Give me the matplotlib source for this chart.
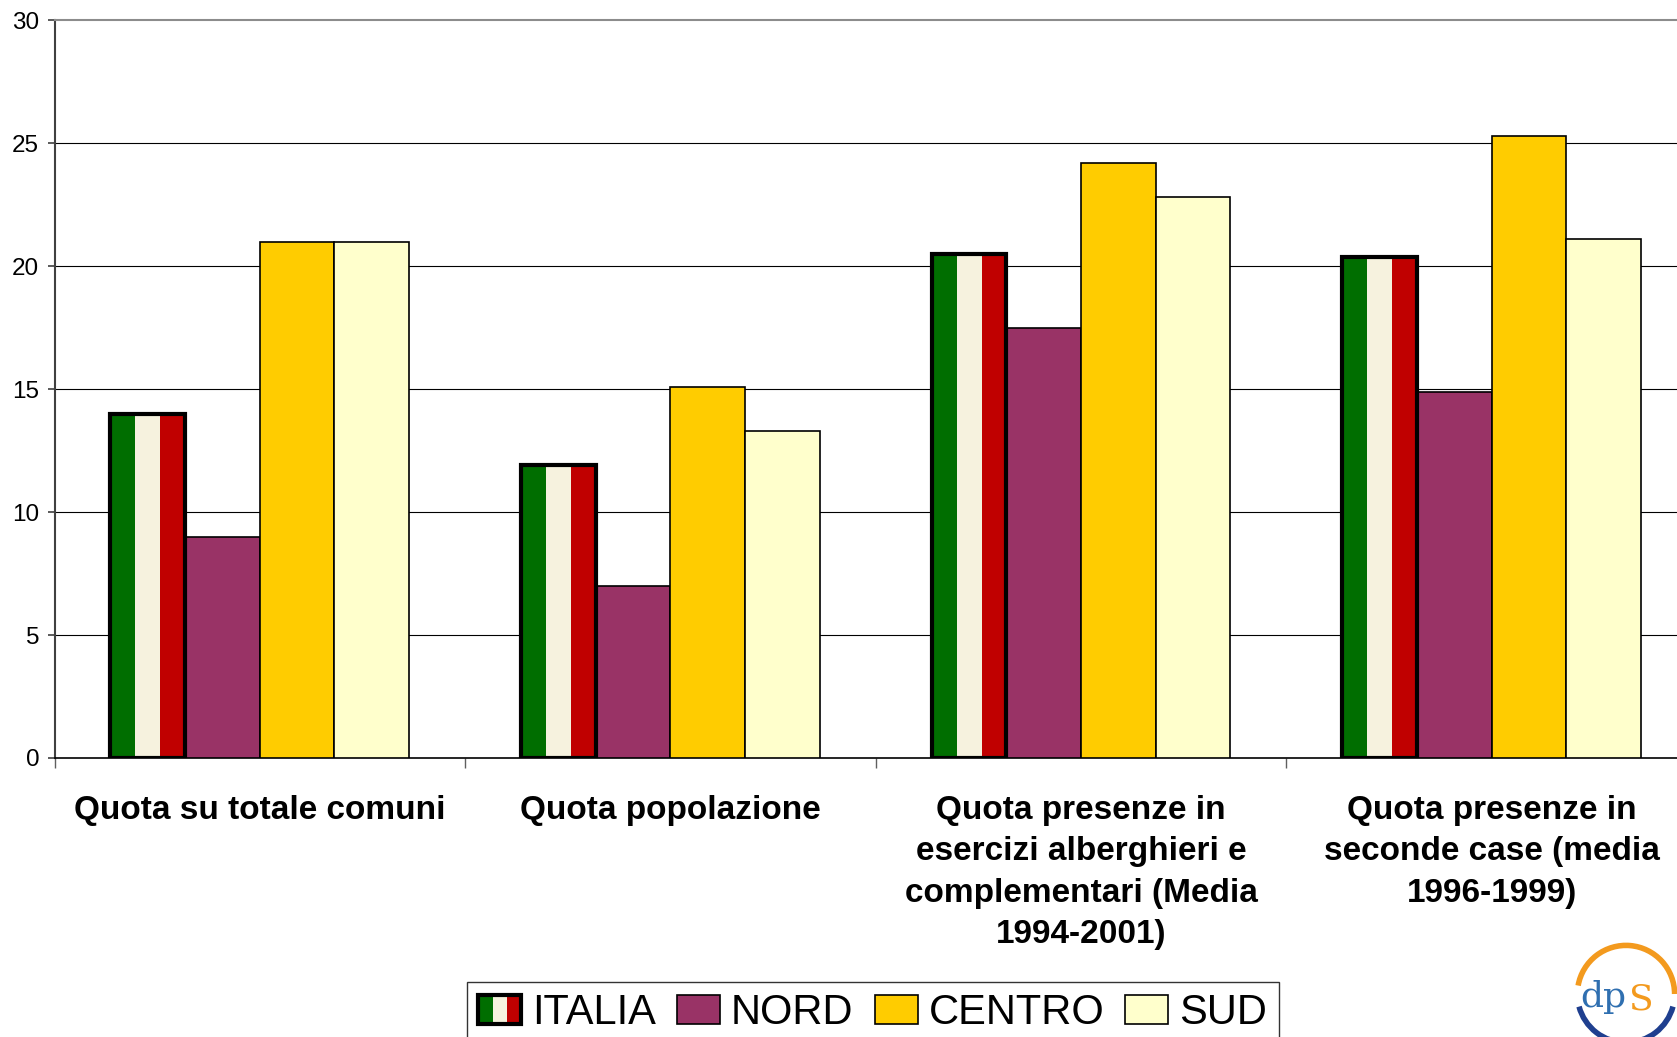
import matplotlib
matplotlib.use("Agg")
import matplotlib.pyplot as plt
from matplotlib.patches import Rectangle, Arc
from matplotlib.legend_handler import HandlerBase
from matplotlib import font_manager as fm

# ---- data ----
categories = [
    "Quota su totale comuni",
    "Quota popolazione",
    "Quota presenze in\nesercizi alberghieri e\ncomplementari (Media\n1994-2001)",
    "Quota presenze in\nseconde case (media\n1996-1999)",
]
series_names = ["ITALIA", "NORD", "CENTRO", "SUD"]
italia = [14.0, 11.9, 20.5, 20.4]
nord = [9.0, 7.0, 17.5, 14.9]
centro = [21.0, 15.1, 24.2, 25.3]
sud = [21.0, 13.3, 22.8, 21.1]
yticks = [0, 5, 10, 15, 20, 25, 30]

# ---- styles ----
GREEN, CREAM, RED = "#006E00", "#F6F2DE", "#C00000"
colors = {"NORD": "#993366", "CENTRO": "#FFCC00", "SUD": "#FFFFCC"}

def font_available(name):
    try:
        fm.findfont(fm.FontProperties(family=name), fallback_to_default=False)
        return True
    except Exception:
        return False

narrow = font_available("Liberation Sans Narrow")
legend_family = "Liberation Sans Narrow" if narrow else "Liberation Sans"
legend_size = 37.5 if narrow else 30
lpx = legend_size * 100 / 72.0

plt.rcParams["font.family"] = ["Liberation Sans", "DejaVu Sans"]

W, H = 1677, 1037
fig = plt.figure(figsize=(W / 100, H / 100), dpi=100)
left_px, right_px, top_px, zero_px = 54.5, 1697, 20.5, 758
ax = fig.add_axes([left_px / W, 1 - zero_px / H, (right_px - left_px) / W, (zero_px - top_px) / H])

n = len(categories)
bw = 1 / 5.5
centers = [i + 0.5 for i in range(n)]

# gridlines
for t in yticks[1:-1]:
    ax.axhline(t, color="black", lw=0.8, zorder=1)

# ITALIA tricolor bars
for c, v in zip(centers, italia):
    x0 = c - 2 * bw
    for k, col in enumerate([GREEN, CREAM, RED]):
        ax.bar(x0 + (k + 0.5) * bw / 3, v, width=bw / 3, color=col, edgecolor="none", zorder=3)
    ax.bar(x0 + bw / 2, v, width=bw, fill=False, edgecolor="black", lw=3.0, zorder=4)

for i, (name, vals) in enumerate(zip(series_names[1:], [nord, centro, sud])):
    xs = [c + (i + 1 - 1.5) * bw for c in centers]
    ax.bar(xs, vals, width=bw, color=colors[name], edgecolor="black", lw=1.2, zorder=3)

ax.set_xlim(0, n)
ax.set_ylim(0, 30)
ax.set_yticks(yticks)
ax.set_yticklabels([str(t) for t in yticks], fontsize=17.5)
ax.set_xticks(range(n + 1))
ax.set_xticklabels([])
ax.tick_params(axis="y", direction="out", length=5, width=1.2, color="#404040", pad=6)
ax.tick_params(axis="x", direction="out", length=7, width=1.0, color="#606060")

ax.spines["right"].set_visible(False)
ax.spines["top"].set_color("#8c8c8c")
ax.spines["top"].set_linewidth(1.5)
ax.spines["left"].set_color("#404040")
ax.spines["left"].set_linewidth(1.5)
ax.spines["bottom"].set_color("black")
ax.spines["bottom"].set_linewidth(1.2)

for c, lab in zip(centers, categories):
    ax.text(c, -0.050, lab, transform=ax.get_xaxis_transform(), ha="center", va="top",
            multialignment="center", fontsize=24, fontweight="bold", linespacing=1.43)

# legend
class TricolorHandler(HandlerBase):
    def create_artists(self, legend, orig_handle, xdescent, ydescent, width, height, fontsize, trans):
        arts = []
        for k, col in enumerate([GREEN, CREAM, RED]):
            arts.append(Rectangle((-xdescent + k * width / 3, -ydescent), width / 3, height,
                                  facecolor=col, edgecolor="none", transform=trans))
        arts.append(Rectangle((-xdescent, -ydescent), width, height, fill=False,
                              edgecolor="black", lw=3.0, transform=trans))
        return arts

handles = [Rectangle((0, 0), 1, 1)]
handles += [Rectangle((0, 0), 1, 1, facecolor=colors[nm], edgecolor="black", lw=1.2) for nm in series_names[1:]]
leg = fig.legend(handles, series_names, loc="upper left",
                 bbox_to_anchor=(467 / W, 1 - 982 / H), borderaxespad=0, ncol=4,
                 prop={"family": legend_family, "size": legend_size},
                 handlelength=43 / lpx, handleheight=29 / lpx, handletextpad=11 / lpx,
                 columnspacing=21 / lpx,
                 borderpad=0.27, frameon=True, fancybox=False,
                 handler_map={handles[0]: TricolorHandler()})
leg.get_frame().set_edgecolor("black")
leg.get_frame().set_linewidth(1.0)

# logo (dps)
lax = fig.add_axes([1572 / W, 1 - 1048 / H, 108 / W, 108 / H])
lax.set_xlim(-1, 1)
lax.set_ylim(-1, 1)
lax.set_aspect("equal")
lax.axis("off")
lax.add_patch(Arc((0, 0), 1.8, 1.8, theta1=0, theta2=170, color="#F39A1E", lw=4))
lax.add_patch(Arc((0, 0), 1.8, 1.8, theta1=195, theta2=345, color="#1F3F8F", lw=4))
lax.text(0.0, -0.05, "dp", ha="right", va="center", color="#2F6FB0", fontsize=26,
         family="DejaVu Serif")
lax.text(0.05, -0.1, "S", ha="left", va="center", color="#F39A1E", fontsize=26,
         family="DejaVu Serif")

fig.savefig("out.png", dpi=100)
